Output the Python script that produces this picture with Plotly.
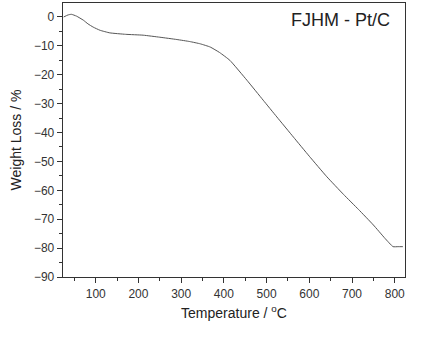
import plotly.graph_objects as go

temperature = [25, 35, 43, 55, 71, 82, 94, 110, 133, 170, 211, 250, 290, 320, 345, 368, 390, 414, 454, 492,
               524, 563, 600, 641, 680, 715, 750, 777, 796, 808, 819]
weight_loss = [0, 0.7, 0.93, 0.3, -1.1, -2.4, -3.5, -4.6, -5.5, -6.0, -6.3, -7.0, -7.8, -8.5, -9.3, -10.4,
               -12.3, -15.0, -21.9, -28.8, -34.6, -41.6, -48.2, -55.3, -61.4, -66.6, -72.0, -76.6, -79.5,
               -79.5, -79.5]
x_ticks = [100, 200, 300, 400, 500, 600, 700, 800]
y_ticks = [0, -10, -20, -30, -40, -50, -60, -70, -80, -90]
label = "FJHM - Pt/C"

fig = go.Figure()
fig.add_trace(go.Scatter(x=temperature, y=weight_loss, mode="lines",
                         line=dict(color="#555555", width=1, shape="spline", smoothing=0.4),
                         showlegend=False, hoverinfo="skip"))

axis_common = dict(showline=True, linecolor="#333333", linewidth=1.3, mirror=True, showgrid=False,
                   zeroline=False, ticks="outside", ticklen=5, tickwidth=1, tickcolor="#333333",
                   automargin=False,
                   tickfont=dict(family="Arial, Liberation Sans", size=12, color="#333333"))

fig.update_xaxes(range=[23.4, 824], tickvals=x_ticks,
                 minor=dict(ticks="outside", ticklen=3, tickcolor="#333333", dtick=50, tick0=0, showgrid=False),
                 title=dict(text="Temperature / <sup>o</sup>C", standoff=8,
                            font=dict(family="Arial, Liberation Sans", size=14, color="#222222")),
                 **axis_common)
fig.update_yaxes(range=[-90, 4.84], tickvals=y_ticks,
                 minor=dict(ticks="outside", ticklen=3, tickcolor="#333333", dtick=5, tick0=0, showgrid=False),
                 title=dict(text="Weight Loss / %", standoff=9,
                            font=dict(family="Arial, Liberation Sans", size=14, color="#222222")),
                 **axis_common)

fig.add_annotation(x=0.962, y=0.937, xref="paper", yref="paper", text=label, showarrow=False,
                   xanchor="right", yanchor="middle",
                   font=dict(family="Arial, Liberation Sans", size=18, color="#222222"))

fig.update_layout(width=438, height=339, margin=dict(l=63, r=33, t=3, b=62),
                  paper_bgcolor="white", plot_bgcolor="white")
fig.write_html("out.html", config={"displayModeBar": False, "staticPlot": True},
               post_script="document.body.style.margin='0';document.body.style.overflow='hidden';")
